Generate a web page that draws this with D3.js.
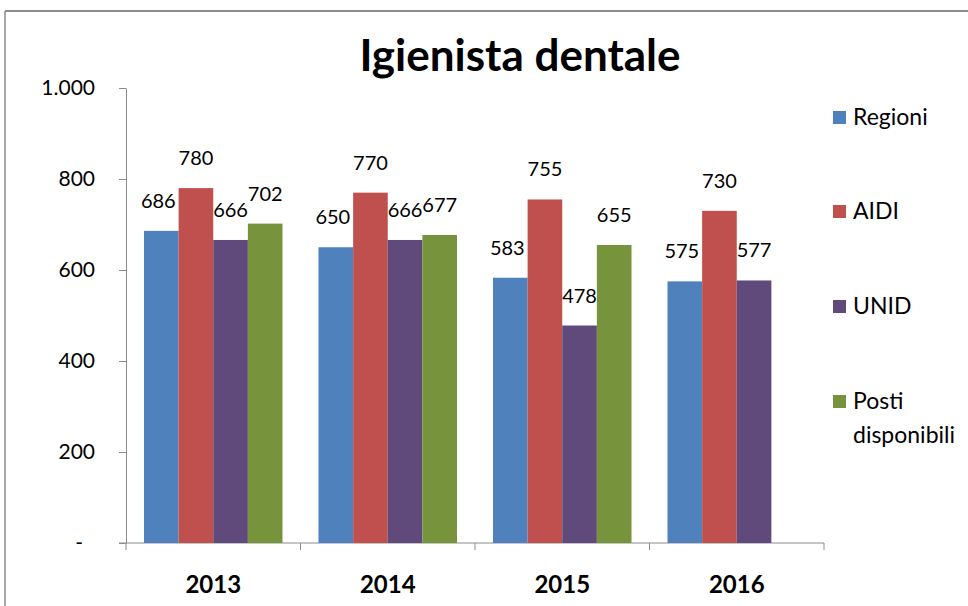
<!DOCTYPE html>
<html>
<head>
<meta charset="utf-8">
<script src="https://cdn.jsdelivr.net/npm/d3@7"></script>
<style>
  body { margin: 0; background: #fff; }
  svg { display: block; font-family: Lato, "Open Sans", sans-serif; }
</style>
</head>
<body>
<div id="chart"></div>
<script>
var years = ["2013", "2014", "2015", "2016"];
var seriesNames = ["Regioni", "AIDI", "UNID", "Posti disponibili"];
var regioni = [686, 650, 583, 575];
var aidi = [780, 770, 755, 730];
var unid = [666, 666, 478, 577];
var posti = [702, 677, 655, null];
var yTicks = [0, 200, 400, 600, 800, 1000];

var palette = ["#4f81bd", "#c0504d", "#604a7b", "#77933c"];
var allValues = [regioni, aidi, unid, posti];

var width = 968, height = 606;

var svg = d3.select("#chart").append("svg")
    .attr("width", width)
    .attr("height", height);

// chart area frame (only top and left edges are visible)
svg.append("line")
    .attr("x1", 5).attr("y1", 11).attr("x2", width).attr("y2", 11)
    .attr("stroke", "#8c8c8c").attr("stroke-width", 2);
svg.append("line")
    .attr("x1", 5).attr("y1", 11).attr("x2", 5).attr("y2", height)
    .attr("stroke", "#8c8c8c").attr("stroke-width", 1.5);

svg.append("text")
    .attr("x", 520)
    .attr("y", 71)
    .attr("text-anchor", "middle")
    .style("font-size", "44px")
    .style("font-weight", "bold")
    .text("Igienista dentale");

var x = d3.scaleBand()
    .domain(years)
    .range([126, 824]);

var x1 = d3.scaleBand()
    .domain(d3.range(seriesNames.length))
    .range([18, x.bandwidth() - 18]);

var y = d3.scaleLinear()
    .domain([0, 1000])
    .range([543, 88]);

// y axis
var yAxis = svg.append("g")
    .attr("transform", "translate(126,0)")
    .call(d3.axisLeft(y)
        .tickValues(yTicks)
        .tickSize(7)
        .tickSizeOuter(0)
        .tickPadding(24)
        .tickFormat(function(d){
            return d === 0 ? "-" : d3.format(",")(d).replace(",", ".");
        }));
yAxis.select(".domain").attr("stroke", "#8c8c8c");
yAxis.selectAll(".tick line").attr("stroke", "#8c8c8c");
yAxis.selectAll(".tick text")
    .style("font-size", "21px")
    .style("font-family", "Lato, sans-serif")
    .attr("fill", "#000")
    .attr("dx", function(d){ return d === 0 ? -12 : 0; });

// x axis line and category separators
svg.append("line")
    .attr("x1", 119).attr("x2", x.range()[1])
    .attr("y1", y(0)).attr("y2", y(0))
    .attr("stroke", "#8c8c8c");

var seps = years.map(function(d){ return x(d); }).concat([x.range()[1]]);
svg.selectAll(".sep")
    .data(seps)
    .enter().append("line")
    .attr("class", "sep")
    .attr("x1", function(d){ return d; })
    .attr("x2", function(d){ return d; })
    .attr("y1", y(0))
    .attr("y2", y(0) + 7)
    .attr("stroke", "#8c8c8c");

svg.selectAll(".xlab")
    .data(years)
    .enter().append("text")
    .attr("class", "xlab")
    .attr("x", function(d){ return x(d) + x.bandwidth() / 2; })
    .attr("y", 593)
    .attr("text-anchor", "middle")
    .style("font-size", "24px")
    .style("font-weight", "bold")
    .text(function(d){ return d; });

// bars
var groups = svg.selectAll(".grp")
    .data(years)
    .enter().append("g")
    .attr("class", "grp")
    .attr("transform", function(d){ return "translate(" + x(d) + ",0)"; });

var cells = groups.selectAll("g")
    .data(function(d, i){
        return allValues.map(function(vals, s){
            return { s: s, v: vals[i] };
        }).filter(function(c){ return c.v != null; });
    })
    .enter().append("g");

cells.append("rect")
    .attr("x", function(d){ return x1(d.s); })
    .attr("width", x1.bandwidth())
    .attr("y", function(d){ return y(d.v); })
    .attr("height", function(d){ return y(0) - y(d.v); })
    .attr("fill", function(d){ return palette[d.s]; });

cells.append("text")
    .attr("x", function(d){ return x1(d.s) + x1.bandwidth() / 2 - (d.s === 0 ? 3 : 0); })
    .attr("y", function(d){ return y(d.v) - 23; })
    .attr("text-anchor", "middle")
    .style("font-size", "20px")
    .text(function(d){ return d.v; });

// legend
var legendY = [117, 211, 306, 401];
var legend = svg.selectAll(".leg")
    .data(seriesNames)
    .enter().append("g")
    .attr("class", "leg")
    .attr("transform", function(d, i){ return "translate(833," + legendY[i] + ")"; });

legend.append("rect")
    .attr("x", 0).attr("y", -6)
    .attr("width", 13).attr("height", 13)
    .attr("fill", function(d, i){ return palette[i]; });

legend.append("text")
    .attr("x", 20)
    .attr("y", 8)
    .style("font-size", "23px")
    .each(function(d){
        var parts = d.split(" ");
        var t = d3.select(this);
        parts.forEach(function(p, k){
            t.append("tspan")
                .attr("x", 20)
                .attr("dy", k === 0 ? 0 : 34)
                .text(p);
        });
    });
</script>
</body>
</html>
